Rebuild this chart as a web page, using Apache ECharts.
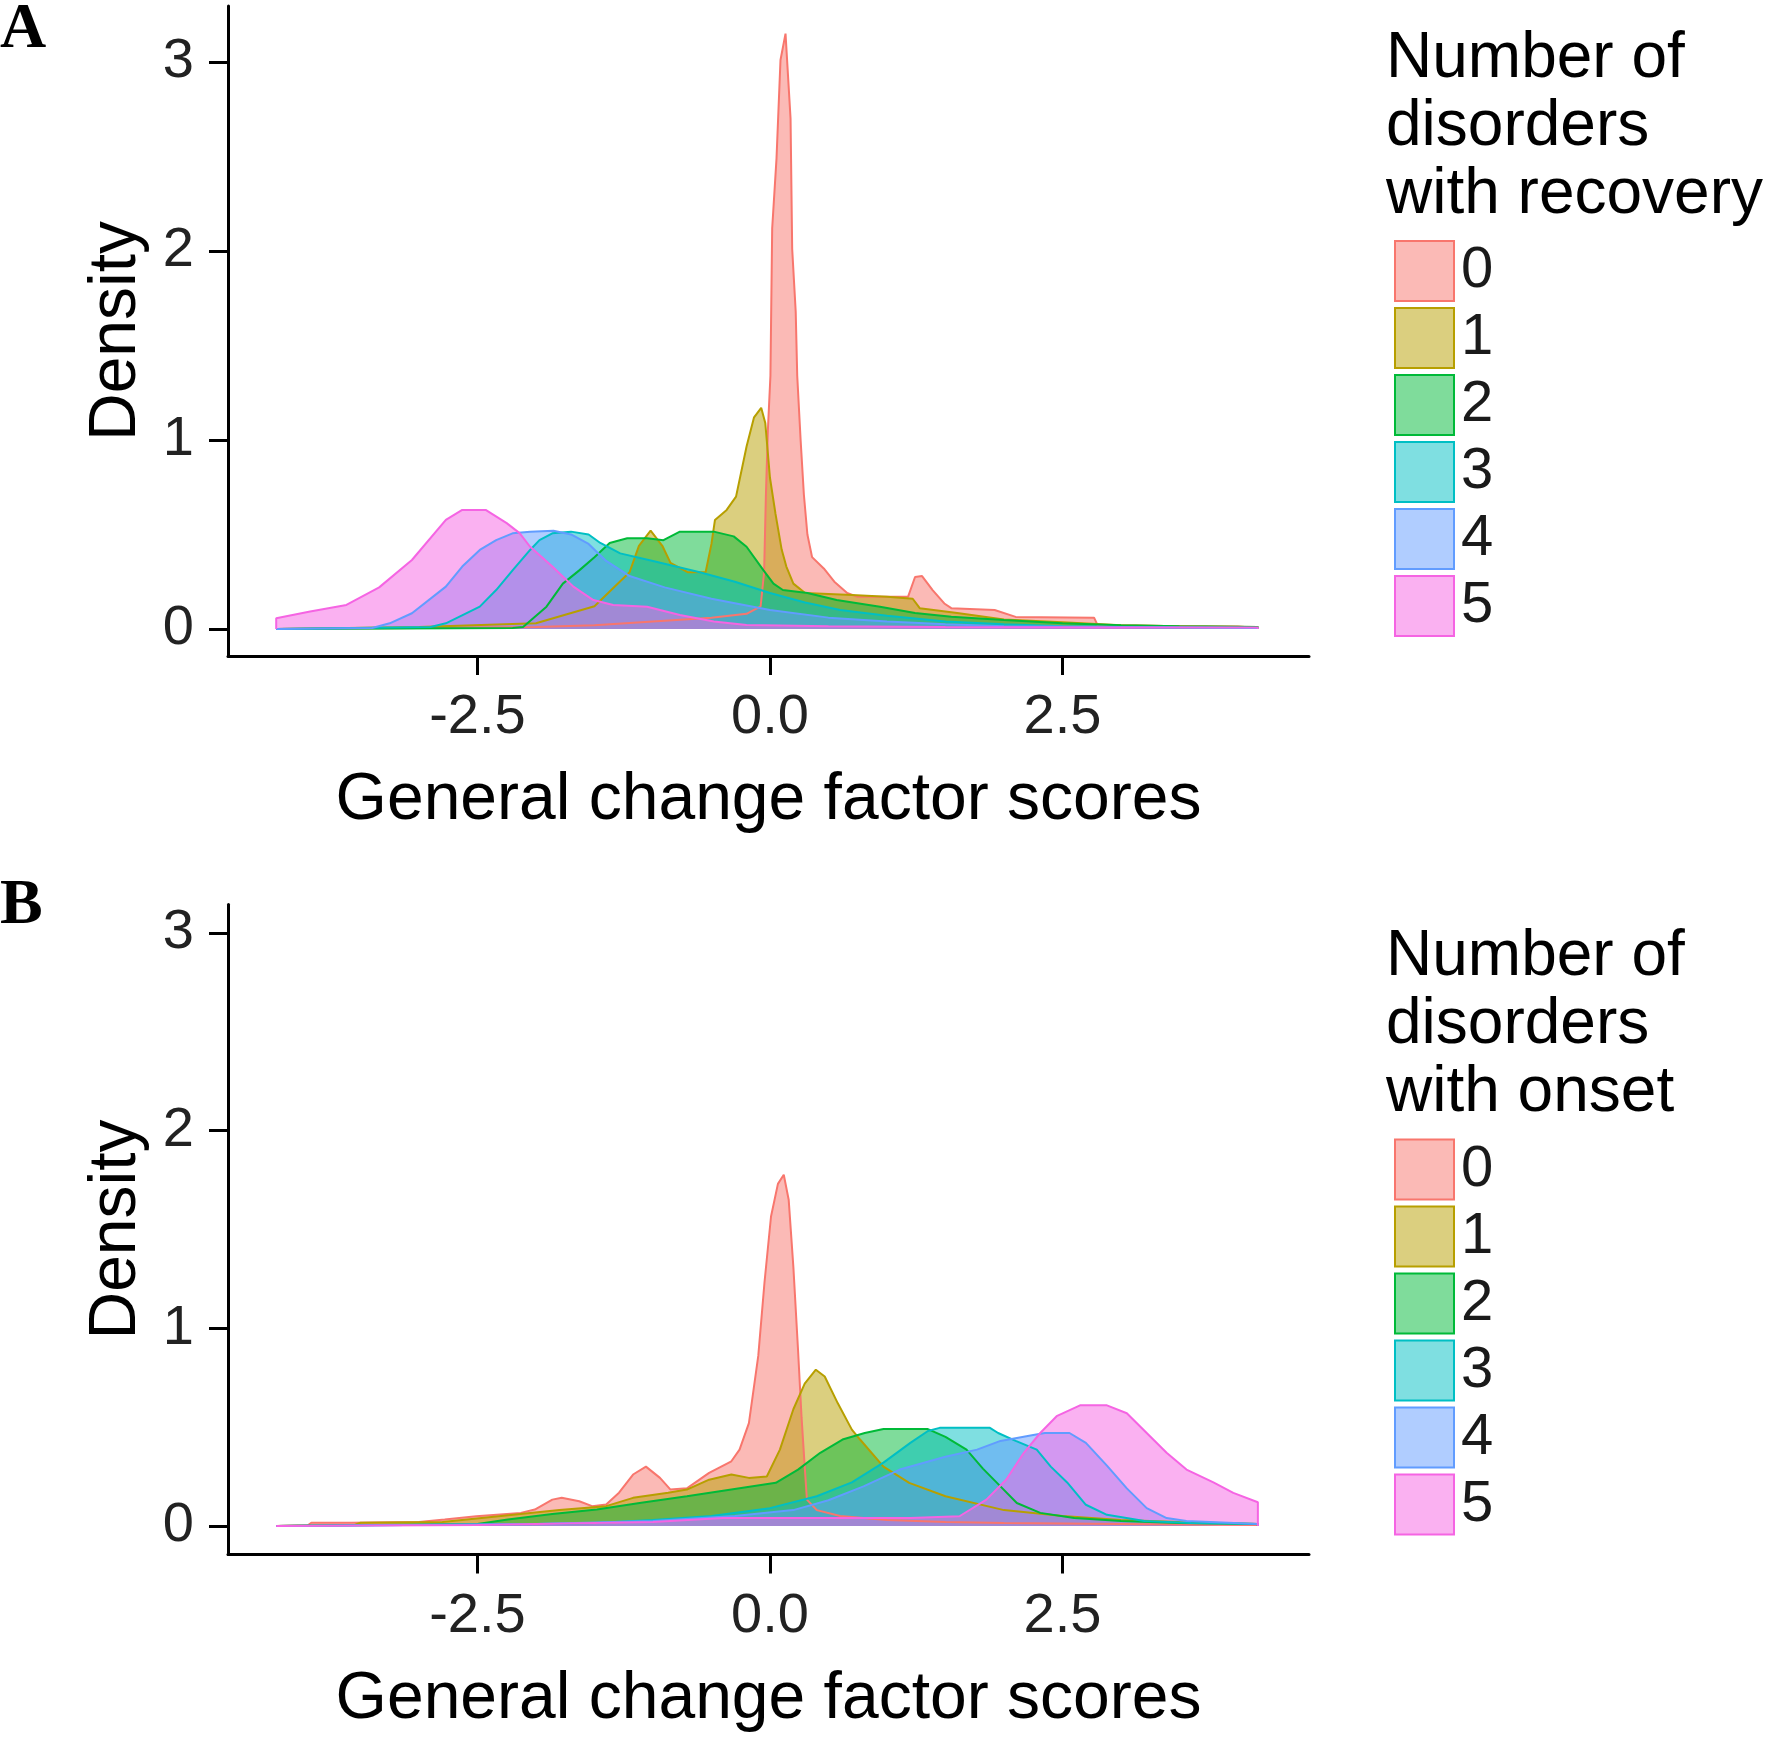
<!DOCTYPE html>
<html>
<head>
<meta charset="utf-8">
<title>General change factor scores</title>
<script src="https://cdn.jsdelivr.net/npm/echarts@6.0.0/dist/echarts.min.js"></script>
<style>
  html, body { margin: 0; padding: 0; background: #fff; }
  #chart { width: 1774px; height: 1748px; }
</style>
</head>
<body>
<div id="chart"></div>
<script>
// group names (number of disorders)
var groups = ['0', '1', '2', '3', '4', '5'];
var xTicks = [-2.5, 0, 2.5];
var yTicks = [0, 1, 2, 3];

// panel A: density of change scores by number of disorders with recovery  [score, density]
var recovery0 = [[-4.22,0],[-4.22,0.005],[-3,0.005],[-2,0.01],[-1.5,0.02],[-1,0.04],[-0.5,0.06],[-0.2,0.08],[-0.08,0.12],[-0.05,0.3],[-0.035,0.7],[-0.018,1.05],[0.004,1.34],[0.019,2.12],[0.056,2.49],[0.09,3.01],[0.133,3.15],[0.176,2.7],[0.19,2.01],[0.22,1.68],[0.233,1.34],[0.262,1.0],[0.29,0.71],[0.32,0.5],[0.36,0.38],[0.46,0.32],[0.55,0.25],[0.66,0.19],[0.75,0.17],[1.18,0.17],[1.24,0.275],[1.3,0.28],[1.39,0.206],[1.49,0.135],[1.55,0.11],[1.92,0.1],[2.1,0.064],[2.77,0.06],[2.8,0.02],[3.75,0.013],[4.0,0.013],[4.17,0.005],[4.17,0]];
var recovery1 = [[-4.22,0],[-4.22,0.005],[-3,0.01],[-2,0.03],[-1.5,0.12],[-1.2,0.3],[-1.12,0.44],[-1.02,0.52],[-0.92,0.44],[-0.85,0.35],[-0.7,0.3],[-0.55,0.3],[-0.5,0.45],[-0.47,0.577],[-0.37,0.63],[-0.29,0.7],[-0.2,0.965],[-0.136,1.12],[-0.075,1.17],[-0.04,1.09],[0.0,0.8],[0.047,0.61],[0.1,0.42],[0.14,0.33],[0.2,0.24],[0.3,0.19],[0.7,0.18],[1.0,0.17],[1.22,0.16],[1.28,0.11],[1.6,0.085],[2.0,0.05],[2.5,0.035],[3,0.02],[3.5,0.015],[4.17,0.01],[4.17,0]];
var recovery2 = [[-4.22,0],[-4.22,0.002],[-2.2,0.005],[-2.11,0.01],[-1.91,0.118],[-1.77,0.24],[-1.63,0.31],[-1.5,0.38],[-1.37,0.455],[-1.22,0.48],[-1.05,0.48],[-0.91,0.47],[-0.77,0.515],[-0.48,0.515],[-0.31,0.49],[-0.2,0.435],[-0.055,0.31],[0.03,0.24],[0.11,0.206],[0.32,0.19],[0.57,0.153],[0.94,0.118],[1.24,0.084],[1.55,0.065],[2.0,0.048],[2.5,0.03],[3,0.02],[3.5,0.015],[4.17,0.01],[4.17,0]];
var recovery3 = [[-4.22,0],[-4.22,0.002],[-2.9,0.01],[-2.77,0.03],[-2.48,0.118],[-2.34,0.206],[-2.2,0.31],[-2.05,0.418],[-1.97,0.47],[-1.86,0.506],[-1.7,0.515],[-1.55,0.5],[-1.45,0.455],[-1.28,0.4],[-1.0,0.36],[-0.6,0.3],[-0.3,0.25],[0,0.19],[0.3,0.14],[0.6,0.1],[1.0,0.07],[1.5,0.04],[2,0.025],[2.5,0.015],[3,0.01],[4.17,0.005],[4.17,0]];
var recovery4 = [[-4.22,0],[-4.22,0.002],[-3.4,0.005],[-3.25,0.03],[-3.06,0.083],[-2.77,0.224],[-2.63,0.33],[-2.48,0.418],[-2.34,0.47],[-2.2,0.506],[-2.05,0.515],[-1.85,0.52],[-1.7,0.5],[-1.55,0.45],[-1.4,0.36],[-1.2,0.28],[-0.9,0.22],[-0.5,0.16],[0,0.1],[0.5,0.06],[1,0.04],[1.5,0.025],[2,0.015],[3,0.01],[4.17,0.005],[4.17,0]];
var recovery5 = [[-4.22,0],[-4.22,0.057],[-3.93,0.092],[-3.62,0.127],[-3.34,0.22],[-3.06,0.365],[-2.77,0.577],[-2.63,0.63],[-2.43,0.63],[-2.25,0.56],[-2.14,0.507],[-2.05,0.435],[-1.86,0.33],[-1.68,0.224],[-1.51,0.153],[-1.34,0.127],[-1.05,0.118],[-0.77,0.074],[-0.48,0.039],[-0.2,0.021],[0.5,0.015],[1.5,0.01],[3,0.008],[4.17,0.008],[4.17,0]];

// panel B: density of change scores by number of disorders with onset  [score, density]
var onset0 = [[-4.22,0],[-4.22,0.003],[-3.95,0.003],[-3.92,0.016],[-3.58,0.016],[-3.0,0.02],[-2.78,0.032],[-2.51,0.049],[-2.13,0.066],[-2.01,0.083],[-1.86,0.133],[-1.78,0.142],[-1.63,0.125],[-1.52,0.1],[-1.4,0.108],[-1.29,0.168],[-1.17,0.26],[-1.06,0.3],[-0.94,0.243],[-0.85,0.184],[-0.71,0.19],[-0.52,0.268],[-0.33,0.327],[-0.26,0.386],[-0.18,0.52],[-0.1,0.86],[-0.047,1.23],[0.009,1.565],[0.068,1.73],[0.118,1.776],[0.16,1.65],[0.2,1.31],[0.24,0.89],[0.27,0.55],[0.297,0.3],[0.316,0.133],[0.4,0.08],[0.6,0.05],[1.0,0.03],[1.5,0.02],[2,0.015],[3,0.01],[4.17,0.005],[4.17,0]];
var onset1 = [[-4.22,0],[-4.22,0.003],[-3.55,0.005],[-3.5,0.016],[-2.8,0.02],[-2.13,0.06],[-1.8,0.08],[-1.4,0.1],[-1.17,0.142],[-0.87,0.168],[-0.71,0.184],[-0.52,0.234],[-0.33,0.26],[-0.18,0.243],[-0.027,0.25],[0.085,0.386],[0.2,0.59],[0.297,0.72],[0.392,0.79],[0.468,0.756],[0.58,0.62],[0.7,0.487],[0.77,0.437],[0.97,0.3],[1.19,0.218],[1.5,0.15],[2,0.08],[2.5,0.05],[3,0.03],[3.5,0.02],[4.17,0.01],[4.17,0]];
var onset2 = [[-4.22,0],[-4.22,0.002],[-2.5,0.01],[-2.24,0.032],[-1.86,0.06],[-1.48,0.083],[-1.1,0.117],[-0.71,0.15],[-0.33,0.184],[0.05,0.218],[0.24,0.285],[0.43,0.37],[0.62,0.437],[0.81,0.47],[0.97,0.49],[1.35,0.49],[1.5,0.45],[1.68,0.386],[1.82,0.29],[1.97,0.2],[2.11,0.116],[2.31,0.066],[2.6,0.04],[3,0.025],[3.5,0.015],[4.17,0.01],[4.17,0]];
var onset3 = [[-4.22,0],[-4.22,0.002],[-2,0.01],[-1.5,0.015],[-1,0.03],[-0.5,0.05],[0,0.09],[0.4,0.15],[0.7,0.22],[0.97,0.32],[1.2,0.42],[1.35,0.48],[1.45,0.496],[1.88,0.496],[1.95,0.47],[2.1,0.43],[2.28,0.386],[2.4,0.3],[2.54,0.22],[2.7,0.107],[2.88,0.056],[3.2,0.025],[3.6,0.015],[4.17,0.01],[4.17,0]];
var onset4 = [[-4.22,0],[-4.22,0.002],[-2,0.01],[-1,0.025],[-0.3,0.05],[0.2,0.08],[0.5,0.13],[0.8,0.2],[1.11,0.285],[1.5,0.35],[1.77,0.386],[1.97,0.43],[2.25,0.46],[2.35,0.47],[2.56,0.47],[2.7,0.42],[2.88,0.305],[3.05,0.19],[3.22,0.09],[3.39,0.04],[3.56,0.025],[4.17,0.01],[4.17,0]];
var onset5 = [[-4.22,0],[-4.22,0.003],[-2.5,0.005],[-1,0.02],[-0.4,0.04],[0.5,0.04],[1.2,0.04],[1.62,0.049],[1.85,0.133],[2.02,0.235],[2.17,0.37],[2.31,0.47],[2.45,0.555],[2.65,0.61],[2.88,0.61],[3.05,0.57],[3.22,0.47],[3.39,0.37],[3.56,0.285],[3.79,0.22],[3.96,0.167],[4.17,0.12],[4.17,0]];

var recoveryData = [recovery0, recovery1, recovery2, recovery3, recovery4, recovery5];
var onsetData = [onset0, onset1, onset2, onset3, onset4, onset5];

// ggplot default hue palette
var lineColors = ['#F8766D', '#B79F00', '#00BA38', '#00BFC4', '#619CFF', '#F564E3'];
var fillColors = lineColors.map(function (c) {
  var r = parseInt(c.substr(1, 2), 16), g = parseInt(c.substr(3, 2), 16), b = parseInt(c.substr(5, 2), 16);
  return 'rgba(' + r + ',' + g + ',' + b + ',0.5)';
});

var FONT = '"Liberation Sans", Arial, sans-serif';
var PANEL_SHIFT = 898.5;

function makeXAxis(gridIndex) {
  return {
    type: 'value',
    gridIndex: gridIndex,
    min: -4.632,
    max: 4.607,
    name: 'General change factor scores',
    nameLocation: 'middle',
    nameGap: 112,
    nameTextStyle: { fontFamily: FONT, fontSize: 66, color: '#000' },
    axisLine: { onZero: false, lineStyle: { color: '#000', width: 3 } },
    axisTick: { customValues: xTicks, length: 19, lineStyle: { color: '#000', width: 3 } },
    axisLabel: {
      customValues: xTicks,
      margin: 34,
      fontFamily: FONT,
      fontSize: 56,
      color: '#222',
      formatter: function (v) { return v.toFixed(1); }
    },
    splitLine: { show: false }
  };
}

function makeYAxis(gridIndex, min, max) {
  return {
    type: 'value',
    gridIndex: gridIndex,
    min: min,
    max: max,
    name: 'Density',
    nameLocation: 'middle',
    nameGap: 78,
    nameTextStyle: { fontFamily: FONT, fontSize: 66, color: '#000' },
    axisLine: { show: true, onZero: false, lineStyle: { color: '#000', width: 3 } },
    axisTick: { show: true, customValues: yTicks, length: 19, lineStyle: { color: '#000', width: 3 } },
    axisLabel: { customValues: yTicks, margin: 34, fontFamily: FONT, fontSize: 56, color: '#222' },
    splitLine: { show: false }
  };
}

function makeSeries(dataSets, axisIndex) {
  return dataSets.map(function (d, i) {
    return {
      name: groups[i],
      type: 'line',
      xAxisIndex: axisIndex,
      yAxisIndex: axisIndex,
      data: d,
      showSymbol: false,
      symbol: 'none',
      smooth: false,
      lineStyle: { color: lineColors[i], width: 2 },
      itemStyle: { color: lineColors[i] },
      areaStyle: { color: fillColors[i], opacity: 1 },
      emphasis: { disabled: true },
      silent: true
    };
  });
}

function makeLegend(top) {
  return {
    orient: 'vertical',
    left: 1389,
    top: top,
    itemWidth: 59,
    itemHeight: 60,
    itemGap: 5,
    selectedMode: false,
    textStyle: { fontFamily: FONT, fontSize: 58, color: '#1a1a1a', lineHeight: 60, padding: [0, 0, 0, 2] },
    data: groups.map(function (g, i) {
      return {
        name: g,
        icon: 'rect',
        itemStyle: { color: fillColors[i], borderColor: lineColors[i], borderWidth: 2 }
      };
    })
  };
}

function legendTitle(text, top) {
  return {
    type: 'text',
    left: 1386,
    top: top,
    style: { text: text, fontFamily: FONT, fontSize: 64, lineHeight: 68, fill: '#000' }
  };
}

function panelLabel(text, top) {
  return {
    type: 'text',
    left: 0,
    top: top,
    style: { text: text, fontFamily: '"Liberation Serif", "Times New Roman", serif', fontWeight: 'bold', fontSize: 64, fill: '#000' }
  };
}

var chart = echarts.init(document.getElementById('chart'), null, { renderer: 'canvas' });

var option = {
  backgroundColor: '#fff',
  animation: false,
  grid: [
    { left: 228, top: 6, width: 1081, height: 650 },
    { left: 228, top: 6 + PANEL_SHIFT, width: 1081, height: 650 }
  ],
  xAxis: [makeXAxis(0), makeXAxis(1)],
  yAxis: [makeYAxis(0, -0.143, 3.296), makeYAxis(1, -0.1445, 3.143)],
  legend: [makeLegend(235), makeLegend(235 + PANEL_SHIFT)],
  graphic: [
    panelLabel('A', -2),
    panelLabel('B', PANEL_SHIFT - 24),
    legendTitle('Number of\ndisorders\nwith recovery', 25),
    legendTitle('Number of\ndisorders\nwith onset', 25 + PANEL_SHIFT)
  ],
  series: makeSeries(recoveryData, 0).concat(makeSeries(onsetData, 1))
};

chart.setOption(option);
</script>
</body>
</html>
